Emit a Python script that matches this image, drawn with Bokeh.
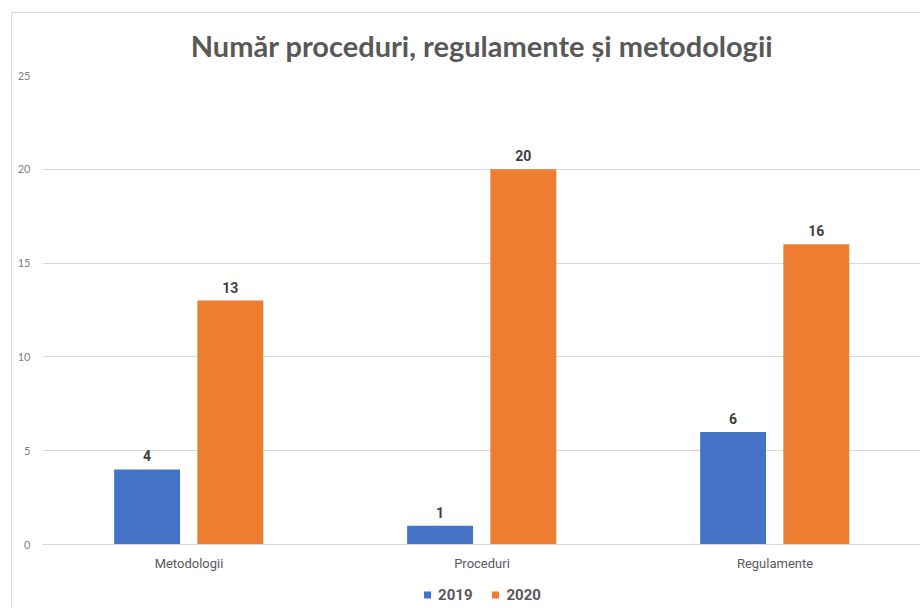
from bokeh.plotting import figure
from bokeh.layouts import column
from bokeh.models import ColumnDataSource, FactorRange, LabelSet, Legend, LegendItem, Range1d, SingleIntervalTicker
from bokeh.transform import dodge
from bokeh.core.properties import value
from bokeh.embed import file_html
from bokeh.resources import INLINE

categories = ["Metodologii", "Proceduri", "Regulamente"]
series_names = ["2019", "2020"]
values_2019 = [4, 1, 6]
values_2020 = [13, 20, 16]
colors = ["#4472C4", "#ED7D31"]

src = ColumnDataSource(data=dict(
    cat=categories,
    v2019=values_2019,
    v2020=values_2020,
    l2019=[str(v) for v in values_2019],
    l2020=[str(v) for v in values_2020],
))

x_range = FactorRange(*categories, range_padding=0)

p = figure(
    x_range=x_range,
    y_range=Range1d(0, 25),
    width=909, height=570,
    output_backend="svg", toolbar_location=None,
    min_border_left=30, min_border_right=0, min_border_top=50, min_border_bottom=39,
)
p.margin = (12, 0, 0, 11)
p.styles = {"border-left": "1px solid #d9d9d9", "border-top": "1px solid #d9d9d9"}

p.title.text = "Număr proceduri, regulamente și metodologii"
p.title.align = "center"
p.title.text_font = "Lato"
p.title.text_font_size = "29px"
p.title.text_font_style = "bold"
p.title.text_color = "#595959"
p.title.standoff = 25

r1 = p.vbar(x=dodge("cat", -0.143, range=x_range), top="v2019", width=0.225,
            source=src, fill_color=colors[0], line_color=None)
r2 = p.vbar(x=dodge("cat", 0.141, range=x_range), top="v2020", width=0.225,
            source=src, fill_color=colors[1], line_color=None)

for col, off in (("2019", -0.143), ("2020", 0.141)):
    lbl = LabelSet(x=dodge("cat", off, range=x_range), y="v" + col, text="l" + col,
                   source=src, text_align="center", text_baseline="bottom", y_offset=8,
                   text_font=value("Roboto"), text_font_size="14px",
                   text_font_style="bold", text_color="#404040")
    p.add_layout(lbl)

p.yaxis.ticker = SingleIntervalTicker(interval=5)
p.yaxis.axis_line_color = None
p.yaxis.major_tick_line_color = None
p.yaxis.minor_tick_line_color = None
p.yaxis.major_label_text_font = "Lato"
p.yaxis.major_label_text_font_size = "11px"
p.yaxis.major_label_text_color = "#7f7f7f"
p.yaxis.major_label_standoff = 6

p.xaxis.axis_line_color = "#d9d9d9"
p.xaxis.major_tick_line_color = None
p.xaxis.minor_tick_line_color = None
p.xaxis.major_label_text_font = "Roboto"
p.xaxis.major_label_text_font_size = "13px"
p.xaxis.major_label_text_color = "#595959"
p.xaxis.major_label_standoff = 5

p.xgrid.grid_line_color = None
p.ygrid.grid_line_color = "#d9d9d9"
p.outline_line_color = None

# legend strip below the chart (series swatches drawn off-range, only the legend shows)
lg = figure(
    x_range=x_range, y_range=Range1d(1000, 1001),
    width=909, height=25,
    output_backend="svg", toolbar_location=None,
    min_border_left=30, min_border_right=0, min_border_top=0, min_border_bottom=0,
)
lg.margin = (0, 0, 0, 11)
lg.styles = {"border-left": "1px solid #d9d9d9"}
lg.xaxis.visible = False
lg.yaxis.visible = False
lg.xgrid.grid_line_color = None
lg.ygrid.grid_line_color = None
lg.outline_line_color = None
g1 = lg.vbar(x=dodge("cat", -0.143, range=x_range), top="v2019", width=0.225,
             source=src, fill_color=colors[0], line_color=None)
g2 = lg.vbar(x=dodge("cat", 0.141, range=x_range), top="v2020", width=0.225,
             source=src, fill_color=colors[1], line_color=None)

legend = Legend(items=[LegendItem(label=series_names[0], renderers=[g1]),
                       LegendItem(label=series_names[1], renderers=[g2])],
                orientation="horizontal", location="center",
                label_text_font="Roboto", label_text_font_size="15px",
                label_text_font_style="bold", label_text_color="#595959",
                glyph_width=9, glyph_height=9, spacing=18, padding=0, margin=0,
                border_line_color=None, background_fill_alpha=0, label_standoff=7)
lg.add_layout(legend, "center")

layout = column(p, lg, spacing=0)

open("out.html", "w").write(file_html(layout, INLINE))
